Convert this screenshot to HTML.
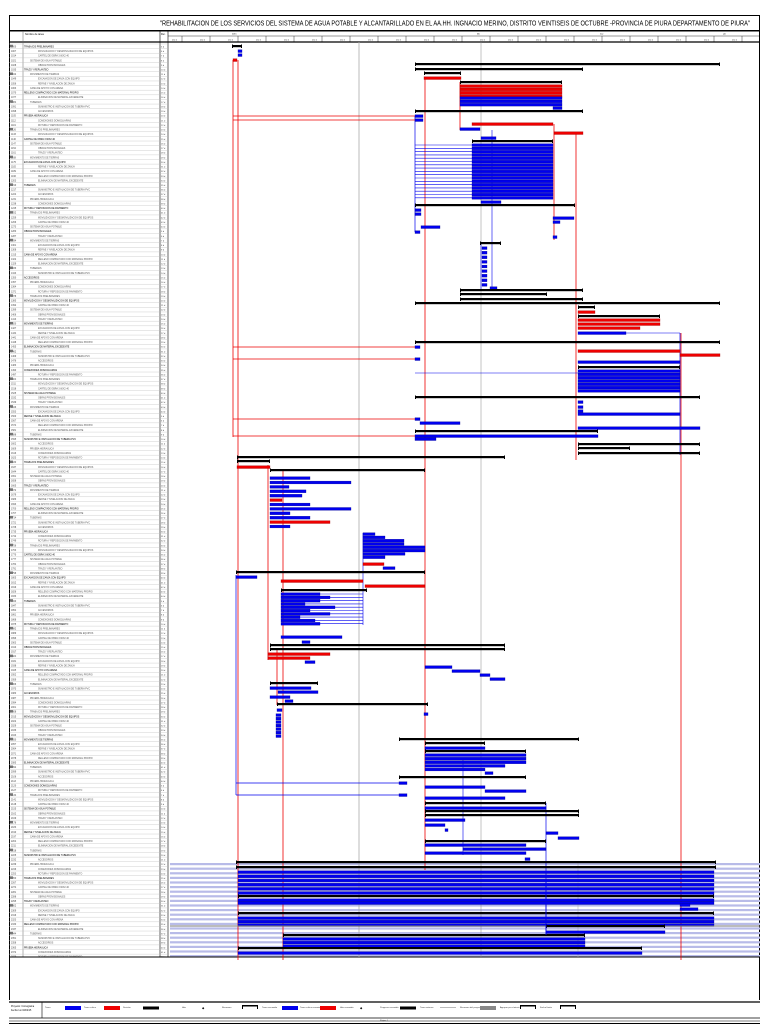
<!DOCTYPE html>
<html><head><meta charset="utf-8"><style>
html,body{margin:0;padding:0;background:#fff;}
body{width:768px;height:1024px;overflow:hidden;font-family:"Liberation Sans",sans-serif;}
svg{display:block}
</style></head><body>
<svg id="s" width="768" height="1024" viewBox="0 0 768 1024" xmlns="http://www.w3.org/2000/svg">
<rect x="0" y="0" width="768" height="1024" fill="#fff"/>
<rect x="9.5" y="15.5" width="750" height="15" fill="none" stroke="#000" stroke-width="1"/>
<text x="455" y="25.5" font-size="7.2" text-anchor="middle" font-family="Liberation Sans, sans-serif" textLength="590" lengthAdjust="spacingAndGlyphs">"REHABILITACION DE LOS SERVICIOS DEL SISTEMA DE AGUA POTABLE Y ALCANTARILLADO EN EL AA.HH. INGNACIO MERINO, DISTRITO VEINTISEIS DE OCTUBRE -PROVINCIA DE PIURA DEPARTAMENTO DE PIURA"</text>
<g id="g"></g>
</svg>
<script>
var g=document.getElementById('g'),h='';
function L(x1,y1,x2,y2,c,w){h+='<line x1="'+x1+'" y1="'+y1+'" x2="'+x2+'" y2="'+y2+'" stroke="'+c+'" stroke-width="'+w+'"/>';}
function R(x,y,w,hh,c){h+='<rect x="'+x+'" y="'+y+'" width="'+w+'" height="'+hh+'" fill="'+c+'"/>';}
function T(x,y,s,t,c){h+='<text x="'+x+'" y="'+y+'" font-size="'+s+'" fill="'+(c||'#000')+'">'+t+'</text>';}
// header
R(9,31,751,11,'#fff');
L(9,31,760,31,'#000',1);L(9,42,760,42,'#000',1.2);
L(9.5,31,9.5,1000,'#000',1);L(759.5,31,759.5,1000,'#000',1);
L(23,31,23,957,'#666',.5);L(160,31,160,957,'#000',.6);L(168,31,168,957,'#000',.6);
L(168,36,760,36,'#000',.4);
T(25,35,2.5,'Nombre de tarea');T(161,35,2.5,'Dur.');
for(var x=182;x<760;x+=28){L(x,36,x,42,'#000',.4);T(x-10,40.5,2,'ene 1');}
T(232,34.5,2,'2015');T(477,34.5,2,'feb');T(600,34.5,2,'mar');T(723,34.5,2,'abr');
// light grid in bottom region
for(var y=862;y<956;y+=4.6){R(170,y+1,590,2.2,'#b8bbe8');}
// rows
var names=['TRABAJOS PRELIMINARES','MOVILIZACION Y DESMOVILIZACION DE EQUIPOS','CARTEL DE OBRA 3.60X2.40','SISTEMA DE AGUA POTABLE','OBRAS PROVISIONALES','TRAZO Y REPLANTEO','MOVIMIENTO DE TIERRAS','EXCAVACION DE ZANJA CON EQUIPO','REFINE Y NIVELACION DE ZANJA','CAMA DE APOYO CON ARENA','RELLENO COMPACTADO CON MATERIAL PROPIO','ELIMINACION DE MATERIAL EXCEDENTE','TUBERIAS','SUMINISTRO E INSTALACION DE TUBERIA PVC','ACCESORIOS','PRUEBA HIDRAULICA','CONEXIONES DOMICILIARIAS','ROTURA Y REPOSICION DE PAVIMENTO'];
var i=0;
for(var y=44;y<956;y+=4.62){
 L(9,y,168,y,'#bbb',.35);
 var n=names[i%names.length];
 var ind=(i%5==0)?24:(i%3==0?30:38);
 T(11,y+3.4,2.3,(1000+i*7),'#444');
 T(ind,y+3.4,2.3,n,(i%5==0)?'#000':'#555');
 T(161,y+3.4,2.2,(5+i%40)+' d','#444');
 if(i%6==0)R(10,y+0.8,3,2.5,'#777');
 i++;
}
L(9,957,760,957,'#000',1);
// gray grid lines
L(359,42,359,957,'#aaa',.8);L(481,42,481,957,'#888',.5);L(578,862,578,957,'#aaa',.5);
// bars helpers
function K(x1,x2,y){R(x1,y-1,x2-x1,2.2,'#000');R(x1,y-1.5,1,3.5,'#000');R(x2-1,y-1.5,1,3.5,'#000');}
function B(x1,x2,y,c){R(x1,y-1.3,x2-x1,2.8,c||'#0000ee');h+='<rect x="'+x1+'" y="'+(y-1.3)+'" width="'+(x2-x1)+'" height="2.8" fill="none" stroke="'+(c=='#e00'?'#900':'#00008a')+'" stroke-width=".3"/>';}
var BL='#0000ee',RD='#e00';
// red verticals
L(233,60,233,437,RD,.8);L(238,60,238,960,RD,.8);L(425,78,425,870,RD,.8);L(460,82,460,130,RD,.8);
L(576,133,576,460,RD,.8);L(681,333,681,960,RD,.8);L(283,470,283,960,RD,.8);L(554,124,554,240,RD,.8);
L(268,465,268,660,RD,.8);L(277,650,277,705,RD,.8);
// blue verticals
L(415,116,415,232,BL,.7);L(492,130,492,290,BL,.6);L(680,333,680,455,BL,.7);L(236,575,236,795,BL,.7);
L(463,760,463,855,BL,.6);L(546,803,546,935,BL,.7);L(363,533,363,625,BL,.6);L(481,243,481,290,BL,.6);
// top
K(232,242,46);B(238,242,51);B(238,242,55);B(233,237,60,RD);
K(415,720,64);K(415,583,69);K(424,461,73);B(424,461,78,RD);
K(460,562,82);for(var y=86;y<97;y+=3.3)B(460,562,y,RD);for(var y=98;y<106;y+=3.3)B(460,562,y);B(553,562,108);
K(415,583,111);L(233,116,415,116,RD,.8);L(233,120,415,120,RD,.8);B(415,423,116);B(415,423,120);
B(472,553,124,RD);B(554,583,133,RD);B(460,480,129);B(481,496,138);
K(472,553,141);for(var y=145;y<198;y+=3.3){B(472,553,y);L(415,y,472,y,BL,.6);}
B(481,501,202);K(415,575,205);B(415,421,210);B(415,421,214);B(421,440,227);B(415,420,232);
B(553,574,218);B(553,560,222);B(553,557,237);
K(480,501,243);for(var y=248;y<288;y+=4.6)B(482,487,y);B(490,497,288);
K(460,583,290);K(460,547,294);K(460,583,299);K(415,720,303);
K(578,595,307);B(578,595,312,RD);K(578,660,316);B(578,660,320,RD);B(578,660,324,RD);B(578,640,328,RD);
B(578,626,333);L(626,333,680,333,BL,.6);
K(415,720,342);L(233,347,415,347,RD,.8);B(415,420,347);B(578,680,351,RD);B(680,720,355,RD);
L(233,359,415,359,RD,.8);B(415,420,359);B(578,680,362);K(578,680,367);L(415,373,578,373,BL,.6);
for(var y=371;y<394;y+=3.3)B(578,680,y);
K(415,700,397);B(578,583,402);B(578,583,407);B(578,583,411);B(578,680,414);
L(233,419,415,419,RD,.8);B(415,420,419);B(420,460,423);B(578,700,428);
K(415,598,431);L(233,436,415,436,RD,.8);B(415,598,436);B(415,436,439);
K(578,700,444);K(578,630,448);K(578,700,453);
// lower
K(237,505,457);K(237,270,461);B(237,270,467,RD);K(270,425,470);
var ws=[310,351,289,306,302,282,310,351,290,310,330,290];
for(var k=0;k<12;k++){var y=478+k*4.4;B(270,ws[k],y,(k==5||k==10)?RD:BL);}
var ws2=[375,385,404,404,425,425,405,385];
for(var k=0;k<8;k++)B(363,ws2[k],534+k*3.3);
B(363,384,564,RD);B(383,395,568);K(236,425,572);B(236,257,577);
B(281,363,581,RD);B(365,425,586,RD);K(281,367,590);
var ws3=[320,330,320,305,335,310,330,300,315,320];
for(var k=0;k<10;k++){var y=594+k*3.3;B(281,ws3[k],y);L(ws3[k],y,363,y,BL,.6);}
B(281,342,637);B(302,310,642);K(270,505,645);K(270,505,649);
B(268,330,654,RD);B(268,310,658,RD);B(305,315,662);
B(425,452,667);B(452,480,671);B(480,490,675);B(490,505,679);
K(270,318,683);B(270,311,688);B(278,318,692);B(270,290,697);B(285,293,701);
K(277,428,704);B(277,282,710);for(var y=715;y<737;y+=3.5)B(276,281,y);B(424,428,714);
K(399,579,739);K(425,485,743);B(425,485,748);K(425,526,751);
var ws4=[526,526,526,505,485];for(var k=0;k<5;k++)B(425,ws4[k],755+k*3.6);
B(485,493,773);K(399,526,777);L(236,783,399,783,BL,.7);B(399,407,783);
B(425,485,787);B(485,526,791);L(236,795,399,795,BL,.7);B(399,407,795);B(425,505,798);
K(425,546,803);B(425,546,808);K(425,579,811);K(425,579,815);B(425,465,820);B(425,445,825);B(445,448,830);
B(546,558,833);B(558,579,838);K(425,546,841);B(425,526,845);B(463,546,849);B(425,526,853);B(525,530,859);
K(236,716,862);K(236,716,867);
for(var y=872;y<895;y+=4.2)B(238,714,y);
K(238,714,896);B(238,714,900);B(238,714,903);B(680,690,905);B(680,698,909);
K(238,714,913);for(var y=918;y<926;y+=3.5)B(238,714,y);
L(170,926,760,926,'#777',1);K(546,665,926);B(546,665,932);
K(283,585,935);for(var y=939;y<948;y+=3.5)B(283,585,y);
K(238,642,948);B(238,642,953);
L(546,880,546,935,BL,.8);
// legend
L(9,1002,760,1002,'#000',1.2);L(9,1018,760,1018,'#000',.8);L(9,1021,760,1021,'#000',.6);L(9,1023.5,760,1023.5,'#000',1);
L(42,1002,42,1018,'#000',.6);
T(11,1007,2.3,'Proyecto: Cronograma');T(11,1011,2.3,'Fecha: lun 02/02/15');
var lg=[[45,'Tarea','b'],[84,'Tarea crítica','r'],[123,'División','k'],[182,'Hito','m'],[222,'Resumen','s'],[262,'Tarea resumida','b'],[300,'Tarea crítica resumida','r'],[340,'Hito resumido','m'],[380,'Progreso resumido','k'],[420,'Tarea externa','g'],[460,'Resumen del proyecto','gg'],[500,'Agrupar por síntesis','s'],[540,'Fecha límite','s']];
lg.forEach(function(a){T(a[0],1008,2.2,a[1],'#333');var x=a[0]+20;
 if(a[2]=='b')R(x,1006,16,4,'#0000ee');else if(a[2]=='r')R(x,1006,16,4,'#e00');else if(a[2]=='k')R(x,1006.5,16,3,'#000');
 else if(a[2]=='s'){R(x,1005,16,1.5,'#000');R(x,1005,1,4,'#000');R(x+15,1005,1,4,'#000');}
 else if(a[2]=='g')R(x,1007,16,1,'#bbb');else if(a[2]=='gg')R(x,1006,16,4,'#888');else T(x,1009,3,'◆');});
T(380,1021,2,'Página 1','#333');
g.innerHTML=h;
</script>
</body></html>
